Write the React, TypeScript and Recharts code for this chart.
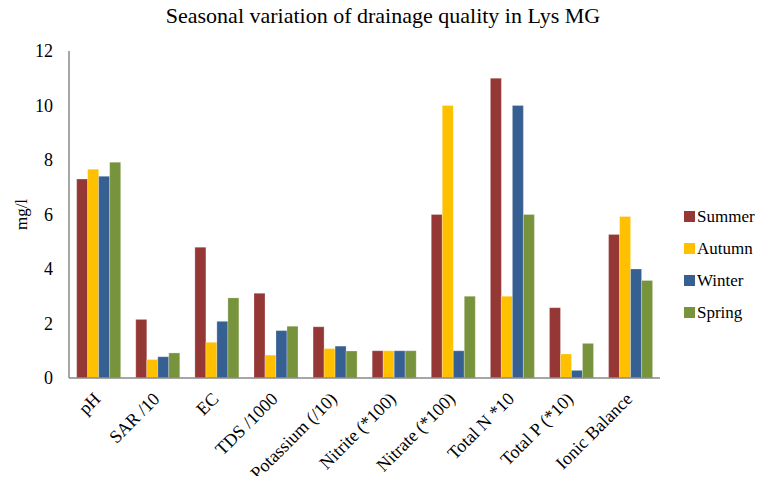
import React from "react";
import { BarChart, Bar, XAxis, YAxis, Legend } from "recharts";

const categories = ["pH", "SAR /10", "EC", "TDS /1000", "Potassium (/10)", "Nitrite (*100)", "Nitrate (*100)", "Total N *10", "Total P (*10)", "Ionic Balance"];
const summer = [7.3, 2.15, 4.8, 3.11, 1.88, 1, 6, 11, 2.58, 5.27];
const autumn = [7.66, 0.68, 1.31, 0.84, 1.08, 1, 10, 3, 0.88, 5.93];
const winter = [7.4, 0.78, 2.08, 1.74, 1.17, 1, 1, 10, 0.28, 4.0];
const spring = [7.92, 0.92, 2.94, 1.9, 0.99, 1, 3, 6, 1.27, 3.58];
const seriesNames = ["Summer", "Autumn", "Winter", "Spring"];
const yTicks = [0, 2, 4, 6, 8, 10, 12];

const colors = ["#953735", "#FFC000", "#376092", "#77933C"];
const data = categories.map((c, i) => ({
  name: c,
  Summer: summer[i],
  Autumn: autumn[i],
  Winter: winter[i],
  Spring: spring[i],
}));

const font = "'Liberation Serif', 'Times New Roman', serif";

const XTick = (props: any) => {
  const { x, y, payload } = props;
  const ax = x + 3;
  const ay = y + 14;
  return (
    <text
      x={ax}
      y={ay}
      transform={`rotate(-45, ${ax}, ${ay})`}
      textAnchor="end"
      fontFamily={font}
      fontSize={18}
      fill="#000"
    >
      {payload.value}
    </text>
  );
};

const LegendContent = () => (
  <svg width={72} height={128} style={{ overflow: "visible", display: "block" }}>
    {seriesNames.map((n, i) => (
      <g key={n}>
        <rect x={0} y={i * 32 + 10} width={11} height={11} fill={colors[i]} />
        <text x={13} y={i * 32 + 21} fontFamily={font} fontSize={17} fill="#000">
          {n}
        </text>
      </g>
    ))}
  </svg>
);

export default function App() {
  return (
    <div style={{ position: "relative", width: 749, height: 468, overflow: "visible" }}>
      <div
        style={{
          position: "absolute",
          left: 0,
          width: 750,
          top: -5,
          textAlign: "center",
          fontFamily: font,
          fontSize: 22,
          color: "#000",
          whiteSpace: "nowrap",
        }}
      >
        Seasonal variation of drainage quality in Lys MG
      </div>
      <BarChart
        width={757}
        height={476}
        data={data}
        margin={{ top: 43, right: 33, bottom: 76, left: 0 }}
        barCategoryGap="13%"
        barGap={0}
      >
        <XAxis
          dataKey="name"
          axisLine={{ stroke: "#888", strokeWidth: 1.5 }}
          tickLine={false}
          interval={0}
          tick={<XTick />}
        />
        <YAxis
          width={61}
          domain={[0, 12]}
          ticks={yTicks}
          axisLine={{ stroke: "#888", strokeWidth: 1.5 }}
          tickLine={false}
          tickSize={6}
          tickMargin={10}
          tick={{ fontFamily: font, fontSize: 18, fill: "#000" }}
          label={{
            value: "mg/l",
            angle: -90,
            position: "insideLeft",
            offset: 13,
            style: { fontFamily: font, fontSize: 17, fill: "#000", textAnchor: "middle" },
          }}
        />
        <Legend
          layout="vertical"
          verticalAlign="top"
          align="right"
          content={<LegendContent />}
          wrapperStyle={{ left: 676, top: 193, width: 72, height: 128 }}
        />
        {seriesNames.map((n, i) => (
          <Bar key={n} dataKey={n} fill={colors[i]} isAnimationActive={false} stroke="#fff" strokeOpacity={0.5} strokeWidth={0.5} />
        ))}
      </BarChart>
    </div>
  );
}
